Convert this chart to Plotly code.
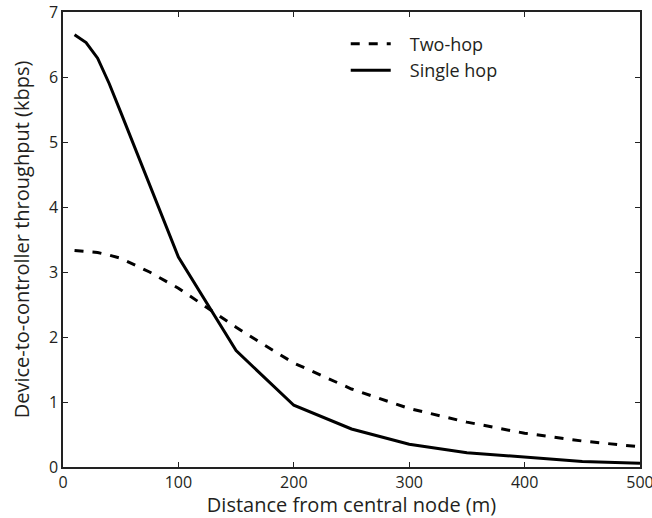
import plotly.graph_objects as go

# Data
single_x = [10, 20, 30, 40, 50, 100, 150, 200, 250, 300, 350, 400, 450, 500]
single_y = [6.65, 6.53, 6.29, 5.90, 5.46, 3.23, 1.79, 0.95, 0.585, 0.35, 0.22, 0.15, 0.085, 0.057]

two_x = [10, 20, 30, 40, 50, 75, 100, 125, 150, 175, 200, 250, 300, 350, 400, 450, 500]
two_y = [3.33, 3.32, 3.30, 3.26, 3.21, 3.00, 2.75, 2.45, 2.15, 1.87, 1.60, 1.20, 0.90, 0.69, 0.52, 0.40, 0.31]

series_names = ["Two-hop", "Single hop"]
x_ticks = [0, 100, 200, 300, 400, 500]
y_ticks = [0, 1, 2, 3, 4, 5, 6, 7]

FONT = "Open Sans"
PAD = "\u00a0" * 3

fig = go.Figure()
fig.add_trace(go.Scatter(x=two_x, y=two_y, mode="lines", name=PAD + series_names[0],
                         line=dict(color="black", width=3, dash="dash")))
fig.add_trace(go.Scatter(x=single_x, y=single_y, mode="lines", name=PAD + series_names[1],
                         line=dict(color="black", width=3)))

axis_common = dict(showgrid=False, zeroline=False, showline=True, linecolor="#222",
                   linewidth=1.5, mirror="ticks", ticks="inside", ticklen=5,
                   tickcolor="#222", automargin=False, ticklabeloverflow="allow",
                   tickfont=dict(family=FONT, size=16, color="#231f20"))

fig.update_layout(
    width=652, height=518,
    margin=dict(l=63, r=12, t=12, b=51),
    plot_bgcolor="white", paper_bgcolor="white",
    font=dict(family=FONT, color="#231f20"),
    xaxis=dict(range=[0, 500], tickvals=x_ticks,
               title=dict(text="Distance from central node (m)", font=dict(family=FONT, size=20), standoff=1),
               **axis_common),
    yaxis=dict(range=[0, 7], tickvals=y_ticks,
               title=dict(text="Device-to-controller throughput (kbps)", font=dict(family=FONT, size=20), standoff=14),
               **axis_common),
    legend=dict(x=0.49, y=0.97, xanchor="left", yanchor="top",
                bgcolor="rgba(0,0,0,0)", font=dict(family=FONT, size=18, color="#231f20"),
                tracegroupgap=0, itemwidth=40),
    showlegend=True,
)

# remove the default 8px page margin so the figure fills the window exactly
fig.write_html("out.html", config={"displayModeBar": False},
               post_script="document.body.style.margin='0';")
